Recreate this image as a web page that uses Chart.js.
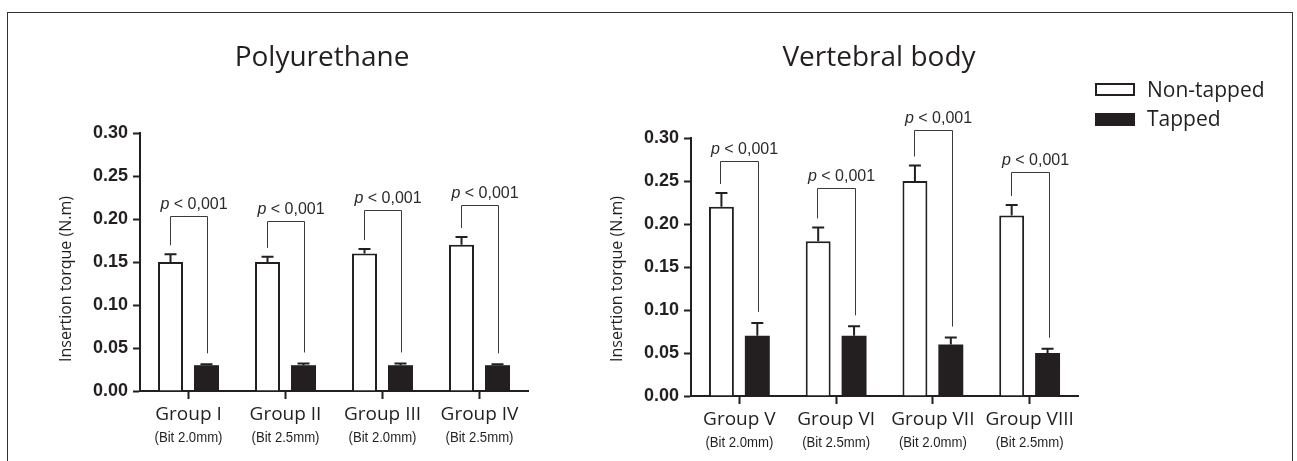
<!DOCTYPE html>
<html>
<head>
<meta charset="utf-8">
<script src="https://cdn.jsdelivr.net/npm/chart.js@4.4.1/dist/chart.umd.min.js"></script>
<style>
  html, body { margin: 0; padding: 0; background: #fff; }
  #wrap { position: relative; width: 1297px; height: 461px; overflow: hidden; background: #fff; }
  #frame { position: absolute; left: 7px; top: 12px; width: 1284px; height: 520px; border: 1.5px solid #333; }
  canvas { position: absolute; top: 0; }
  #left { left: 0; }
  #right { left: 590px; }
</style>
</head>
<body>
<div id="wrap">
  <div id="frame"></div>
  <canvas id="left" width="590" height="461"></canvas>
  <canvas id="right" width="707" height="461"></canvas>
</div>
<script>
// --- data ---
const polyGroups = ['Group I', 'Group II', 'Group III', 'Group IV'];
const polyBits = ['(Bit 2.0mm)', '(Bit 2.5mm)', '(Bit 2.0mm)', '(Bit 2.5mm)'];
const polyNonTapped = [0.15, 0.15, 0.16, 0.17];
const polyNonTappedSd = [0.009, 0.006, 0.005, 0.009];
const polyTapped = [0.03, 0.03, 0.03, 0.03];
const polyTappedSd = [0.001, 0.002, 0.002, 0.001];
const polyBracket = [0.203, 0.198, 0.21, 0.216];

const vertGroups = ['Group V', 'Group VI', 'Group VII', 'Group VIII'];
const vertBits = ['(Bit 2.0mm)', '(Bit 2.5mm)', '(Bit 2.0mm)', '(Bit 2.5mm)'];
const vertNonTapped = [0.22, 0.18, 0.25, 0.21];
const vertNonTappedSd = [0.016, 0.016, 0.018, 0.012];
const vertTapped = [0.07, 0.07, 0.06, 0.05];
const vertTappedSd = [0.015, 0.011, 0.008, 0.005];
const vertBracket = [0.2735, 0.2417, 0.309, 0.26];

const yTickValues = [0, 0.05, 0.10, 0.15, 0.20, 0.25, 0.30];
const yTickLabels = ['0.00', '0.05', '0.10', '0.15', '0.20', '0.25', '0.30'];
const pText = ' < 0,001';
const yTitle = 'Insertion torque (N.m)';
const seriesNames = ['Non-tapped', 'Tapped'];

const INK = '#231f20';
Chart.defaults.font.family = '"Liberation Sans", Arial, sans-serif';
Chart.defaults.color = INK;

function annotPlugin(o) {
  return {
    id: 'annot',
    afterDatasetsDraw(chart) {
      const ctx = chart.ctx;
      const y = chart.scales.y;
      const m0 = chart.getDatasetMeta(0), m1 = chart.getDatasetMeta(1);
      ctx.save();
      // error bars (upper only)
      [[m0, o.v0, o.sd0], [m1, o.v1, o.sd1]].forEach(([meta, vals, sd]) => {
        meta.data.forEach((bar, i) => {
          const top = y.getPixelForValue(vals[i] + sd[i]);
          ctx.strokeStyle = INK;
          ctx.lineWidth = 2;
          ctx.beginPath();
          ctx.moveTo(bar.x, bar.y);
          ctx.lineTo(bar.x, top);
          ctx.moveTo(bar.x - 6, top);
          ctx.lineTo(bar.x + 6, top);
          ctx.stroke();
        });
      });
      // significance brackets
      o.bracket.forEach((bv, i) => {
        const lx = Math.round(m0.data[i].x - 1) + 0.5;
        const rx = Math.round(m1.data[i].x + 1) + 0.5;
        const by = Math.round(y.getPixelForValue(bv)) + 0.5;
        const lEnd = y.getPixelForValue(o.v0[i] + o.sd0[i]) - 9;
        const rEnd = y.getPixelForValue(o.v1[i] + o.sd1[i]) - 11;
        ctx.strokeStyle = '#3a3a3a';
        ctx.lineWidth = 1;
        ctx.beginPath();
        ctx.moveTo(lx, lEnd);
        ctx.lineTo(lx, by);
        ctx.lineTo(rx, by);
        ctx.lineTo(rx, rEnd);
        ctx.stroke();
        // label
        ctx.fillStyle = '#2a2a2a';
        ctx.textBaseline = 'alphabetic';
        ctx.textAlign = 'left';
        ctx.font = 'italic 16px "Liberation Sans"';
        const wp = ctx.measureText('p').width;
        ctx.font = '16px "Liberation Sans"';
        const wr = ctx.measureText(pText).width;
        const cx = (lx + rx) / 2 + 5;
        const sx = cx - (wp + wr) / 2;
        ctx.font = 'italic 16px "Liberation Sans"';
        ctx.fillText('p', sx, by - 8);
        ctx.font = '16px "Liberation Sans"';
        ctx.fillText(pText, sx + wp, by - 8);
      });
      ctx.restore();
    },
    afterDraw(chart) {
      const ctx = chart.ctx;
      const x = chart.scales.x;
      const bottom = chart.chartArea.bottom;
      ctx.save();
      ctx.fillStyle = INK;
      ctx.textAlign = 'center';
      ctx.textBaseline = 'alphabetic';
      // title
      ctx.font = '28px "Open Sans"';
      ctx.fillText(o.title, o.titleX, 66);
      // category labels
      o.groups.forEach((g, i) => {
        const px = x.getPixelForValue(i);
        ctx.font = '19px "Open Sans"';
        ctx.fillText(g, px, bottom + 29);
        ctx.save();
        ctx.translate(px, bottom + 51);
        ctx.scale(0.94, 1);
        ctx.font = '14px "Liberation Sans"';
        ctx.fillText(o.bits[i], 0, 0);
        ctx.restore();
      });
      // y axis title
      ctx.save();
      ctx.translate(o.yTitleX, 279);
      ctx.rotate(-Math.PI / 2);
      ctx.font = '16px "Open Sans"';
      ctx.textBaseline = 'middle';
      ctx.fillText(yTitle, 0, 0);
      ctx.restore();
      // legend
      if (o.legend) {
        const lx = o.legend.x, ly = o.legend.y;
        ctx.lineWidth = 2;
        ctx.strokeStyle = INK;
        ctx.fillStyle = '#fff';
        ctx.fillRect(lx, ly, 38, 11);
        ctx.strokeRect(lx, ly, 38, 11);
        ctx.fillStyle = INK;
        ctx.fillRect(lx - 1, ly + 29, 40, 13);
        ctx.font = '21px "Open Sans"';
        ctx.textAlign = 'left';
        ctx.fillText(seriesNames[0], lx + 51, ly + 13);
        ctx.fillText(seriesNames[1], lx + 51, ly + 42);
      }
      ctx.restore();
    }
  };
}

function makeChart(id, o) {
  return new Chart(document.getElementById(id), {
    type: 'bar',
    data: {
      labels: o.groups,
      datasets: [
        {
          label: seriesNames[0],
          data: o.v0,
          backgroundColor: '#ffffff',
          borderColor: INK,
          borderWidth: 2,
          categoryPercentage: 0.742,
          barPercentage: 0.694
        },
        {
          label: seriesNames[1],
          data: o.v1,
          backgroundColor: INK,
          borderWidth: 0,
          categoryPercentage: 0.742,
          barPercentage: 0.694
        }
      ]
    },
    options: {
      responsive: false,
      animation: false,
      devicePixelRatio: 1,
      layout: { padding: o.padding },
      plugins: { legend: { display: false }, tooltip: { enabled: false }, title: { display: false } },
      scales: {
        x: {
          z: 1,
          grid: { drawOnChartArea: false, offset: false, tickLength: 8, tickWidth: 2, tickColor: INK },
          border: { display: true, width: 2, color: INK },
          ticks: { display: false },
          afterFit: (s) => { s.height = 40; }
        },
        y: {
          min: 0,
          max: 0.3,
          grid: { drawOnChartArea: false, tickLength: 7, tickWidth: 2, tickColor: INK },
          border: { display: true, width: 2, color: INK },
          ticks: {
            padding: 5,
            color: INK,
            font: { size: 18, weight: 'bold' },
            callback: (v, i) => yTickLabels[i]
          },
          afterBuildTicks: (s) => { s.ticks = yTickValues.map(v => ({ value: v })); },
          afterFit: (s) => { s.width = o.yWidth; }
        }
      }
    },
    plugins: [annotPlugin(o)]
  });
}

makeChart('left', {
  groups: polyGroups, bits: polyBits,
  v0: polyNonTapped, sd0: polyNonTappedSd,
  v1: polyTapped, sd1: polyTappedSd,
  bracket: polyBracket,
  title: 'Polyurethane', titleX: 322,
  yTitleX: 66, yWidth: 140,
  padding: { left: 0, right: 62, top: 133, bottom: 30 }
});

makeChart('right', {
  groups: vertGroups, bits: vertBits,
  v0: vertNonTapped, sd0: vertNonTappedSd,
  v1: vertTapped, sd1: vertTappedSd,
  bracket: vertBracket,
  title: 'Vertebral body', titleX: 289,
  yTitleX: 27, yWidth: 101,
  padding: { left: 0, right: 219, top: 138, bottom: 25 },
  legend: { x: 506, y: 84 }
});
</script>
</body>
</html>
